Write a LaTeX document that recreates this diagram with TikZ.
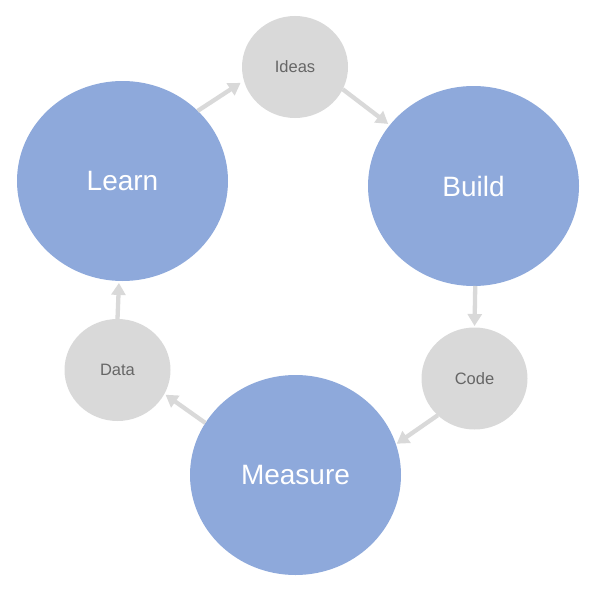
\documentclass[tikz,border=0pt]{standalone}
\usepackage{fontspec}
\setmainfont{Liberation Sans}
\usetikzlibrary{shapes.geometric,arrows.meta}
\definecolor{bigblue}{HTML}{8EA9DB}
\definecolor{smallgray}{HTML}{D9D9D9}
\definecolor{txtgray}{HTML}{666666}
\definecolor{arrgray}{HTML}{D9D9D9}
\tikzset{
  bigstage/.style={ellipse, fill=bigblue, inner sep=0pt, outer sep=0pt,
    minimum width=211pt, minimum height=200pt, text=white,
    font=\fontsize{28}{32}\selectfont},
  smallstage/.style={ellipse, fill=smallgray, inner sep=0pt, outer sep=0pt,
    minimum width=106pt, minimum height=102pt, text=txtgray,
    font=\fontsize{16.5}{19}\selectfont},
  flow/.style={draw=arrgray, line width=4.3pt,
    -{Triangle[length=12pt,width=14pt]}}
}
\begin{document}
\begin{tikzpicture}[x=1pt,y=-1pt]
\useasboundingbox (0,0) rectangle (594,594);
\node[bigstage] (learn) at (122.5,181) {Learn};
\node[bigstage] (build) at (473.5,186) {Build};
\node[bigstage] (measure) at (295.5,475) {Measure};
\node[smallstage] (ideas) at (295,67) {Ideas};
\node[smallstage] (code) at (474.5,378.5) {Code};
\node[smallstage] (data) at (117.5,370) {Data};
\draw[flow, shorten >=4pt] (learn.43.6) -- (ideas.195.3);
\draw[flow, shorten >=2pt] (ideas.-25.6) -- (build.144.8);
\draw[flow, shorten >=1.5pt] (build.-89.6) -- (code.90);
\draw[flow, shorten >=1pt] (code.225.8) -- (measure.17.7);
\draw[flow, shorten >=1.5pt] (measure.150.7) -- (data.-27.8);
\draw[flow, shorten >=2pt] (data.90) -- (learn.-92.5);
\end{tikzpicture}
\end{document}
